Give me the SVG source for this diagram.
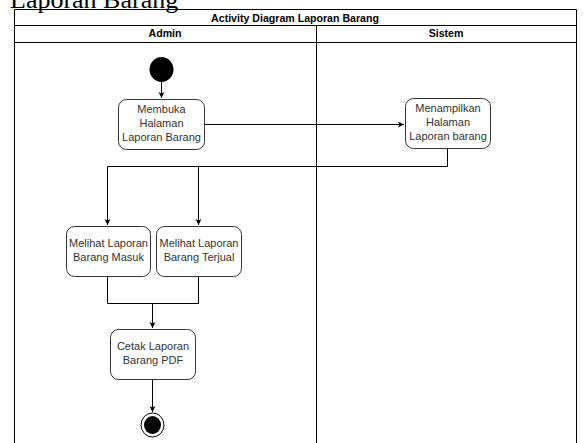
<svg xmlns="http://www.w3.org/2000/svg" width="586" height="443" viewBox="0 0 586 443">
  <defs>
    <marker id="arrow" markerWidth="8" markerHeight="8" refX="7" refY="4" orient="auto" markerUnits="userSpaceOnUse">
      <path d="M1,1 L7,4 L1,7 L2.5,4 Z" fill="#000"/>
    </marker>
    <style>
      .frame { fill: none; stroke: #000; stroke-width: 1; }
      .hdr { font-family: "Liberation Sans", Arial, sans-serif; font-size: 10.6px; font-weight: bold; fill: #000; text-anchor: middle; }
      .act rect { fill: #fff; stroke: #333; stroke-width: 1; }
      .act text { font-family: "Liberation Sans", Arial, sans-serif; font-size: 11px; fill: #333; text-anchor: middle; }
      .edge { fill: none; stroke: #000; stroke-width: 1; }
    </style>
  </defs>
  <rect width="586" height="443" fill="#fff"/>

  <!-- page heading, partly above the top edge -->
  <text x="10" y="7.5" font-family="Liberation Serif, 'Times New Roman', serif" font-size="26" fill="#000">Laporan Barang</text>

  <!-- swimlane frame -->
  <g id="swimlanes">
    <path class="frame" d="M14.5,443 V9.5 H576.5 V443"/>
    <line class="frame" x1="14" y1="25.5" x2="577" y2="25.5" stroke="#555"/>
    <line class="frame" x1="14" y1="42.5" x2="577" y2="42.5"/>
    <line class="frame" x1="316.5" y1="25" x2="316.5" y2="443"/>
    <text class="hdr" x="295" y="21.5">Activity Diagram Laporan Barang</text>
    <text class="hdr" x="165" y="37">Admin</text>
    <text class="hdr" x="446" y="37">Sistem</text>
  </g>

  <!-- connectors -->
  <g id="connectors">
    <path class="edge" d="M161.5,82 V98" marker-end="url(#arrow)"/>
    <path class="edge" d="M204,124.5 H404" marker-end="url(#arrow)"/>
    <path class="edge" d="M447.5,148 V166.5 H107.5 V225" marker-end="url(#arrow)"/>
    <path class="edge" d="M198.5,166.5 V225" marker-end="url(#arrow)"/>
    <path class="edge" d="M107.5,276 V303.5 H198.5 V276"/>
    <path class="edge" d="M152.5,303.5 V328" marker-end="url(#arrow)"/>
    <path class="edge" d="M152.5,379 V412" marker-end="url(#arrow)"/>
  </g>

  <g id="start">
    <ellipse cx="161.5" cy="69.5" rx="12" ry="12.5" fill="#000"/>
  </g>

  <g id="membuka" class="act">
    <rect x="118.5" y="99.5" width="86" height="50" rx="8"/>
    <text x="161.5" y="113">Membuka</text>
    <text x="161.5" y="127">Halaman</text>
    <text x="161.5" y="141">Laporan Barang</text>
  </g>

  <g id="menampilkan" class="act">
    <rect x="405.5" y="98.5" width="85" height="50" rx="8"/>
    <text x="448" y="112">Menampilkan</text>
    <text x="448" y="126">Halaman</text>
    <text x="448" y="140">Laporan barang</text>
  </g>

  <g id="masuk" class="act">
    <rect x="66.5" y="226.5" width="84" height="50" rx="8"/>
    <text x="108.5" y="247">Melihat Laporan</text>
    <text x="108.5" y="261">Barang Masuk</text>
  </g>

  <g id="terjual" class="act">
    <rect x="156.5" y="226.5" width="85" height="50" rx="8"/>
    <text x="199" y="247">Melihat Laporan</text>
    <text x="199" y="261">Barang Terjual</text>
  </g>

  <g id="cetak" class="act">
    <rect x="110.5" y="329.5" width="85" height="50" rx="8"/>
    <text x="153" y="350">Cetak Laporan</text>
    <text x="153" y="364">Barang PDF</text>
  </g>

  <g id="end">
    <ellipse cx="152.5" cy="425" rx="11.5" ry="12" fill="#fff" stroke="#000" stroke-width="1"/>
    <ellipse cx="152.5" cy="425" rx="8.5" ry="9" fill="#000"/>
  </g>
</svg>
